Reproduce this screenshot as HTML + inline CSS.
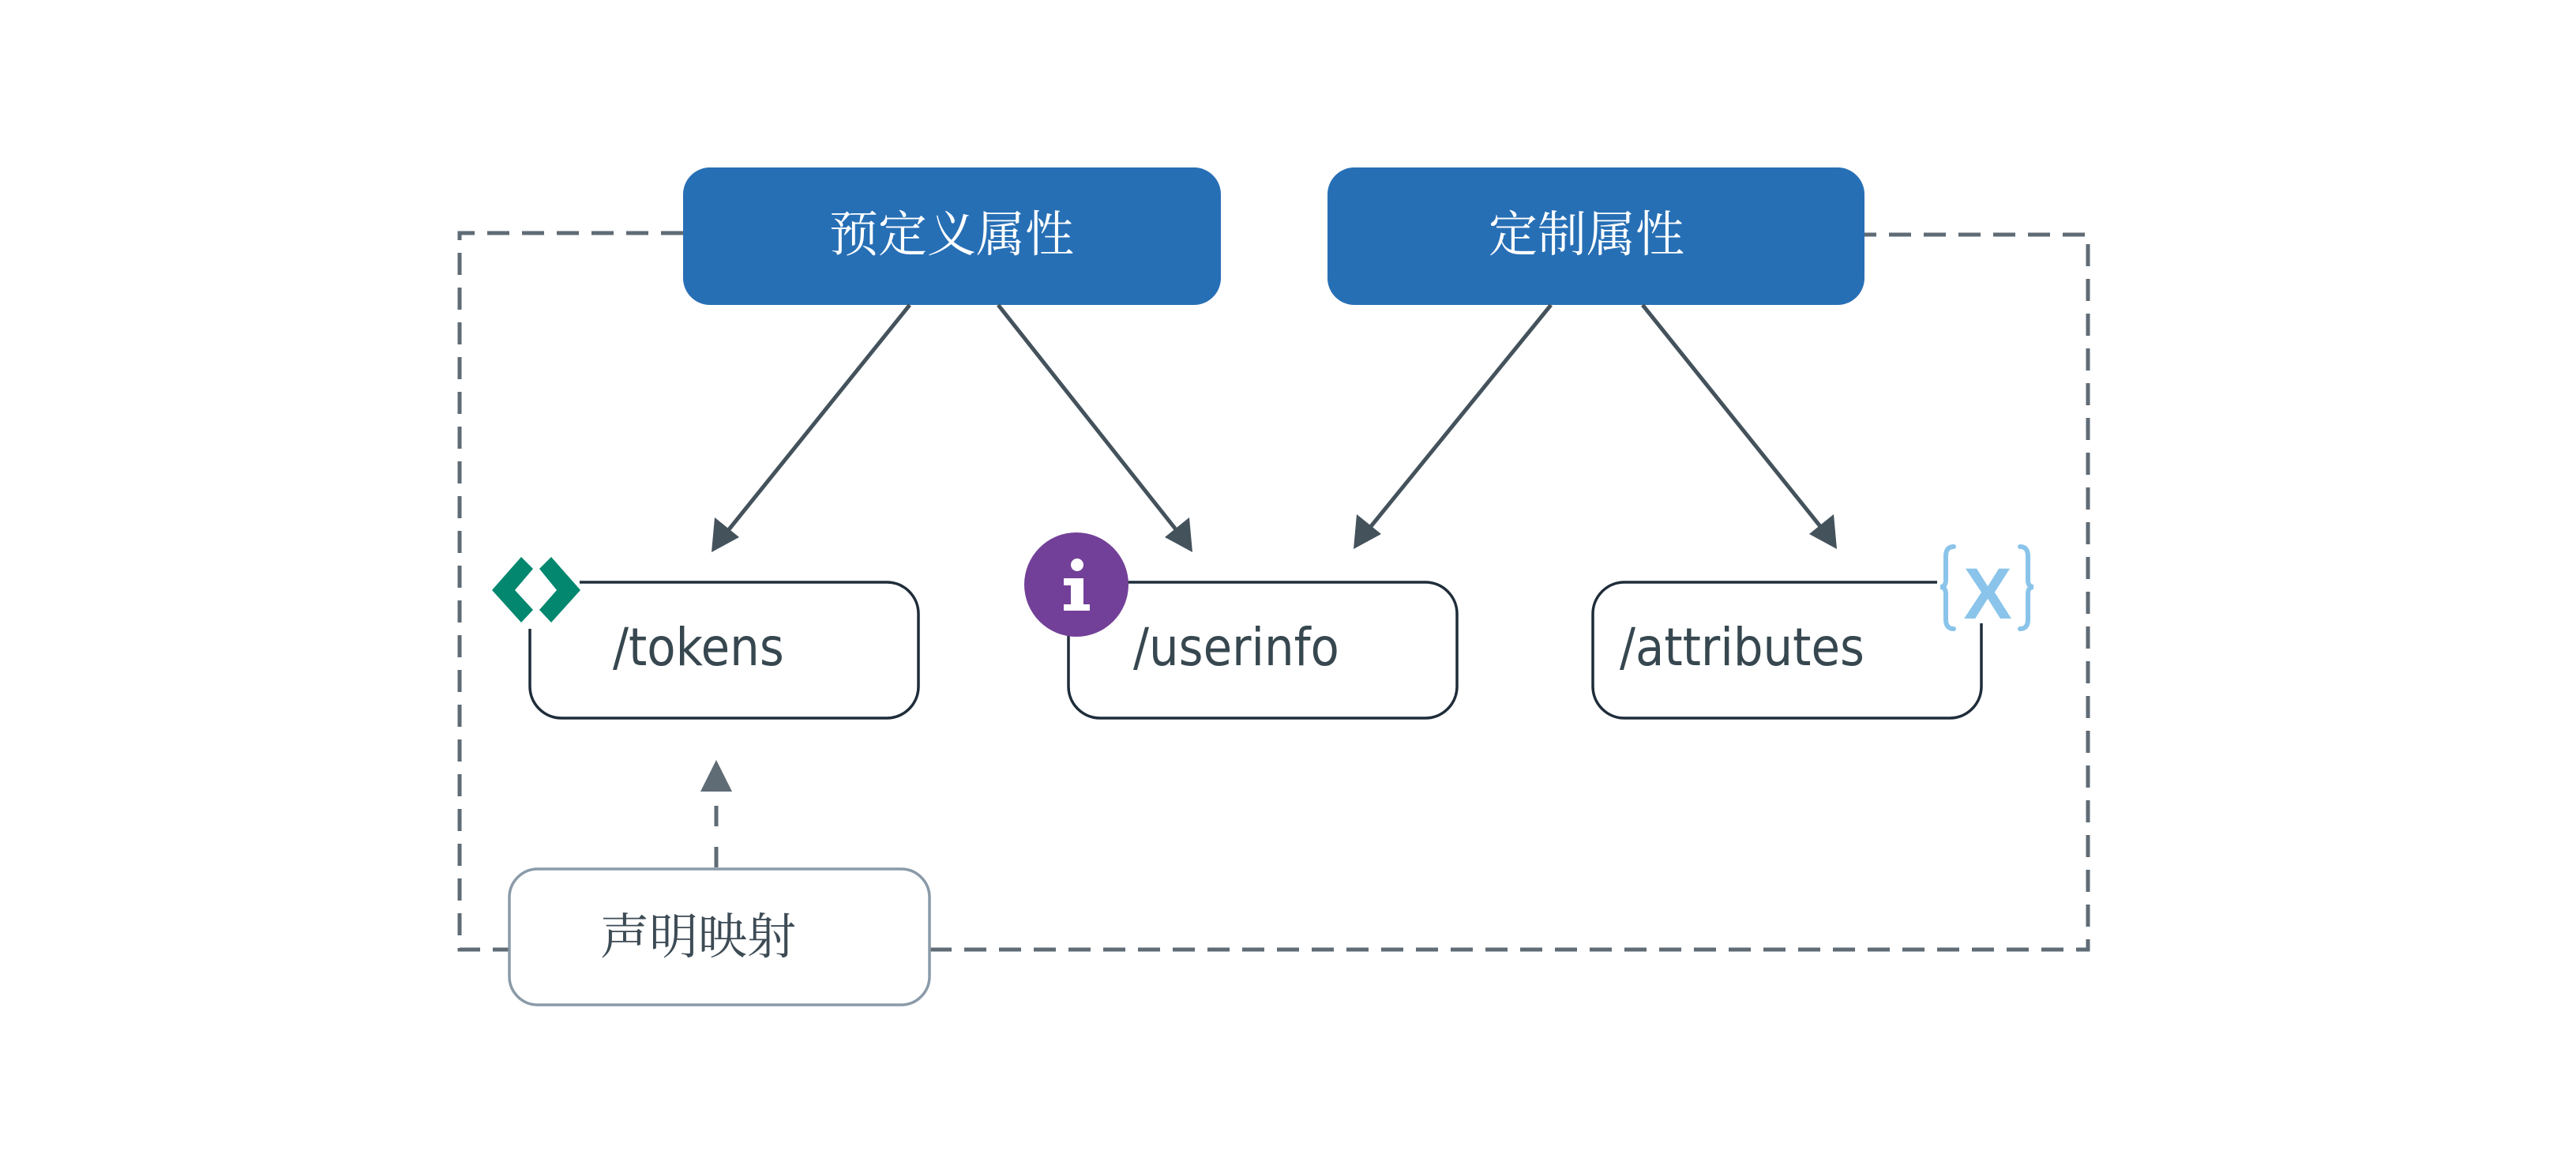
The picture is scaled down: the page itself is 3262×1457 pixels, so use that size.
<!DOCTYPE html>
<html><head><meta charset="utf-8"><style>
html,body{margin:0;padding:0;background:#fff}
svg{display:block}
.cjk{font-family:"Liberation Serif","Noto Serif CJK SC",serif}
.lat{font-family:"DejaVu Sans Condensed","Liberation Sans",sans-serif}
</style></head><body>
<svg width="3262" height="1457" viewBox="0 0 3262 1457" xmlns="http://www.w3.org/2000/svg">
<rect width="3262" height="1457" fill="#fff"/>
<path d="M865 295 H582 V1202 H645 M1177 1202 H2644 V297 H2361" fill="none" stroke="#5f6b75" stroke-width="5" stroke-dasharray="28 16"/>
<rect x="865" y="212" width="681" height="174" rx="34" fill="#276fb5"/>
<text x="1205" y="318" text-anchor="middle" class="cjk" font-size="62" fill="#fff">预定义属性</text>
<rect x="1681" y="212" width="680" height="174" rx="34" fill="#276fb5"/>
<text x="2009" y="318" text-anchor="middle" class="cjk" font-size="62" fill="#fff">定制属性</text>
<g stroke="#44525c" stroke-width="5" fill="#44525c">
<line x1="1152" y1="386" x2="920" y2="674"/>
<polygon points="901,699 905,655 936,680" stroke="none"/>
<line x1="1264" y1="386" x2="1492" y2="674"/>
<polygon points="1510,699 1475,680 1506,655" stroke="none"/>
<line x1="1964" y1="386" x2="1733" y2="670"/>
<polygon points="1714,695 1718,651 1749,676" stroke="none"/>
<line x1="2080" y1="386" x2="2308" y2="670"/>
<polygon points="2326,695 2291,676 2322,651" stroke="none"/>
</g>
<rect x="671" y="737" width="492" height="172" rx="40" fill="#fff" stroke="#1f2d3a" stroke-width="3.5"/>
<rect x="1353" y="737" width="492" height="172" rx="40" fill="#fff" stroke="#1f2d3a" stroke-width="3.5"/>
<rect x="2017" y="737" width="492" height="172" rx="40" fill="#fff" stroke="#1f2d3a" stroke-width="3.5"/>
<rect x="612" y="690" width="122" height="106" fill="#fff"/>
<rect x="2453" y="688" width="128" height="101" fill="#fff"/>
<text x="776" y="842" class="lat" font-size="66" font-weight="500" fill="#37474f">/tokens</text>
<text x="1435" y="842" class="lat" font-size="66" font-weight="500" fill="#37474f">/userinfo</text>
<text x="2051" y="842" class="lat" font-size="66" font-weight="500" fill="#37474f">/attributes</text>
<g fill="#03876f">
<polygon points="623,747 660,705 675,720 652,747 675,772 660,788"/>
<polygon points="683,720 698,705 735,747 698,788 683,772 705,747"/>
</g>
<circle cx="1363" cy="740" r="66" fill="#724098"/>
<circle cx="1364" cy="715" r="8" fill="#fff"/>
<path d="M1347 732 H1372 V765 H1380 V773 H1347 V765 H1356 V741 H1347 Z" fill="#fff"/>
<g fill="none" stroke="#8ac4ea" stroke-width="6" stroke-linecap="round">
<path d="M2474 692 Q2464 692 2464 704 V734 Q2464 743 2457 743 Q2464 743 2464 752 V784 Q2464 796 2474 796"/>
<path d="M2558 692 Q2568 692 2568 704 V734 Q2568 743 2575 743 Q2568 743 2568 752 V784 Q2568 796 2558 796"/>
</g>
<text x="2517" y="783" text-anchor="middle" font-family="Liberation Sans,sans-serif" font-weight="bold" font-size="92" fill="#8ac4ea">X</text>
<rect x="645" y="1100" width="532" height="172" rx="36" fill="#fff" stroke="#8a9aa8" stroke-width="3.5"/>
<text x="884" y="1207" text-anchor="middle" class="cjk" font-size="62" fill="#3d4b55">声明映射</text>
<line x1="907" y1="1098" x2="907" y2="1000" stroke="#5f6b75" stroke-width="5" stroke-dasharray="26 26"/>
<polygon points="907,962 887,1002 927,1002" fill="#5f6b75"/>
</svg>
</body></html>
